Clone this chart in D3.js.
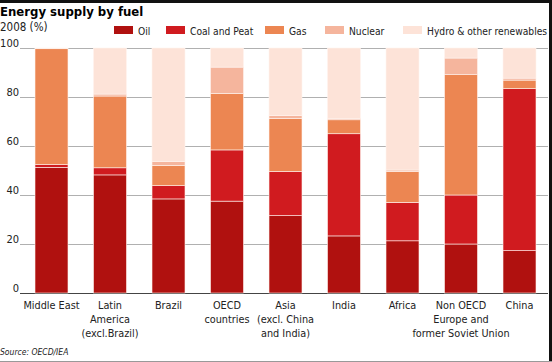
<!DOCTYPE html>
<html>
<head>
<meta charset="utf-8">
<script src="https://d3js.org/d3.v7.min.js"></script>
<style>
body { margin: 0; background: white; }
svg text { font-family: "DejaVu Sans Condensed", "DejaVu Sans", sans-serif; font-stretch: condensed; fill: #222; }
</style>
</head>
<body>
<svg width="552" height="362"></svg>
<script>
var regions = ["Middle East", "Latin America (excl.Brazil)", "Brazil", "OECD countries",
  "Asia (excl. China and India)", "India", "Africa", "Non OECD Europe and former Soviet Union", "China"];
var regionLines = [["Middle East"], ["Latin", "America", "(excl.Brazil)"], ["Brazil"], ["OECD", "countries"],
  ["Asia", "(excl. China", "and India)"], ["India"], ["Africa"], ["Non OECD", "Europe and", "former Soviet Union"], ["China"]];
var fuels = ["Oil", "Coal and Peat", "Gas", "Nuclear", "Hydro & other renewables"];
var colors = ["#b0110f", "#d01b1f", "#ec8652", "#f5b59d", "#fde3d8"];

var oil     = [51.3, 48.2, 38.4, 37.5, 31.6, 23.3, 21.3, 20.0, 17.3];
var coal    = [ 1.1,  2.9,  5.4, 20.9, 18.0, 41.7, 15.7, 20.0, 66.1];
var gas     = [47.3, 29.3,  8.3, 23.1, 21.7,  5.7, 12.6, 49.1,  3.5];
var nuclear = [ 0.0,  0.8,  1.5, 10.7,  1.1,  0.6,  0.6,  6.8,  0.8];
var hydro   = [ 0.3, 18.8, 46.4,  7.8, 27.6, 28.7, 49.8,  4.1, 12.3];
var yTicks  = [0, 20, 40, 60, 80, 100];

var table = regions.map(function(r, i) {
  return { region: r, "Oil": oil[i], "Coal and Peat": coal[i], "Gas": gas[i],
           "Nuclear": nuclear[i], "Hydro & other renewables": hydro[i] };
});

var svg = d3.select("svg");
var plotLeft = 20, plotRight = 548, plotTop = 48, plotBottom = 293;

var x = d3.scaleBand().domain(regions).range([35, 536]).paddingInner(0.436).paddingOuter(0);
var y = d3.scaleLinear().domain([0, 100]).range([plotBottom, plotTop]);
var color = d3.scaleOrdinal().domain(fuels).range(colors);

// top band and frame
svg.append("rect").attr("x", 0).attr("y", 0).attr("width", 552).attr("height", 3).attr("fill", "#111");
svg.append("rect").attr("x", 549).attr("y", 0).attr("width", 3).attr("height", 362).attr("fill", "#111");
svg.append("line").attr("x1", 0).attr("x2", 552).attr("y1", 361.5).attr("y2", 361.5).attr("stroke", "#999");

svg.append("text").attr("x", 0).attr("y", 16).style("font-weight", "bold").style("font-size", "13px")
  .style("fill", "#000").text("Energy supply by fuel");
svg.append("text").attr("x", 0).attr("y", 31).style("font-size", "11.5px").text("2008 (%)");

// gridlines (behind bars)
var yAxis = d3.axisLeft(y).tickValues(yTicks).tickSize(-(plotRight - plotLeft)).tickPadding(1).tickFormat(d3.format("d"));
var gy = svg.append("g").attr("transform", "translate(" + plotLeft + ",0)").call(yAxis);
gy.select(".domain").remove();
gy.selectAll(".tick line").attr("stroke", function(d) { return d == 0 ? "#444" : "#b0b0b0"; });
gy.selectAll(".tick text")
  .attr("dy", "-2").attr("text-anchor", "end")
  .style("font-family", "'DejaVu Sans Condensed', sans-serif").style("font-size", "11px").attr("fill", "#222");

// bars
var stack = d3.stack().keys(fuels)(table);
svg.append("g").selectAll("g").data(stack).enter().append("g")
  .attr("fill", function(d) { return color(d.key); })
  .selectAll("rect").data(function(d) { return d; }).enter().append("rect")
  .attr("x", function(d) { return x(d.data.region); })
  .attr("width", x.bandwidth())
  .attr("y", function(d) { return y(d[1]); })
  .attr("height", function(d) { return Math.max(0, y(d[0]) - y(d[1])); })
  .attr("stroke", "#fff3ee").attr("stroke-width", 0.6);

// category labels
var lab = svg.append("g").selectAll("text").data(regions).enter().append("text")
  .attr("text-anchor", "middle").style("font-size", "10.8px")
  .attr("x", function(d) { return x(d) + x.bandwidth() / 2; })
  .attr("y", 309);
lab.selectAll("tspan").data(function(d, i) { return regionLines[i]; }).enter().append("tspan")
  .attr("x", function() { var r = d3.select(this.parentNode).datum(); return x(r) + x.bandwidth() / 2; })
  .attr("dy", function(d, i) { return i == 0 ? 0 : 14; })
  .text(function(d) { return d; });

// legend
var legX = [114, 166, 265, 325, 403];
var leg = svg.append("g").selectAll("g").data(fuels).enter().append("g")
  .attr("transform", function(d, i) { return "translate(" + legX[i] + ",26)"; });
leg.append("rect").attr("width", 19).attr("height", 8).attr("fill", function(d) { return color(d); });
leg.append("text").attr("x", 24).attr("y", 8.5).style("font-size", "10.2px").text(function(d) { return d; });

svg.append("text").attr("x", 0).attr("y", 355).style("font-size", "8.5px").style("font-style", "italic")
  .text("Source: OECD/IEA");
</script>
</body>
</html>
